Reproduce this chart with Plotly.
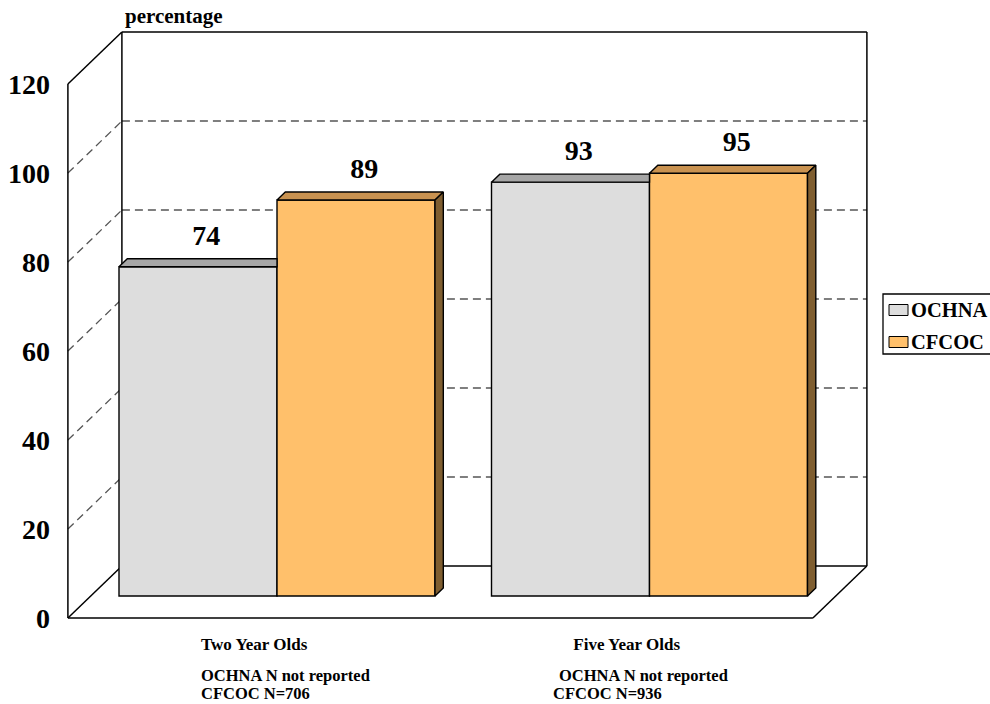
import plotly.graph_objects as go

# ---------------- data ----------------
CATEGORIES = ["Two Year Olds", "Five Year Olds"]
SERIES = ["OCHNA", "CFCOC"]
OCHNA = [74, 93]
CFCOC = [89, 95]
Y_TICKS = [0, 20, 40, 60, 80, 100, 120]
NOTES_OCHNA = ["OCHNA N not reported", "OCHNA N not reported"]
NOTES_CFCOC = ["CFCOC N=706", "CFCOC N=936"]
Y_LABEL = "percentage"

# ---------------- style / geometry ----------------
W_FIG, H_FIG = 990, 704
FONT = "Liberation Serif"
FRONT_COLORS = ["#DDDDDD", "#FFC06B"]
TOP_COLORS = ["#A6A6A6", "#C99250"]
SIDE_COLORS = ["#7A7A7A", "#7F5E30"]
EDGE = "#000000"
GRID = "#555555"

PX_X = 372.5          # pixels per category unit
PX_Y = 4.45           # pixels per percentage point
X0_PX = 277           # pixel of category 0 (bar plane)
Y0_PX = 596           # pixel of value 0 (bar plane)
XRANGE = [-X0_PX / PX_X, (W_FIG - X0_PX) / PX_X]
YRANGE = [-(H_FIG - Y0_PX) / PX_Y, Y0_PX / PX_Y]
BAR_W = 158 / PX_X
CAT_LO, CAT_HI = -0.5, len(CATEGORIES) - 0.5
Y_MAX = Y_TICKS[-1]

DEPTH_DX, DEPTH_DY = 54, 52        # pixel shift from front wall to back wall
D_FRONT = -22 / 52
D_BACK = 30 / 52
D_BAR = 8 / 52


def P(x, v, d):
    """project a point on the bar plane to depth d (relative to bar plane)"""
    return x + d * DEPTH_DX / PX_X, v + d * DEPTH_DY / PX_Y


shapes = []


def seg(p, q, dash=None, color=EDGE, width=1.5):
    ln = dict(color=color, width=width)
    if dash:
        ln["dash"] = dash
    shapes.append(dict(type="line", xref="x", yref="y", x0=p[0], y0=p[1],
                       x1=q[0], y1=q[1], line=ln, layer="below"))


# back wall gridlines + left wall gridlines (dashed)
for v in Y_TICKS[1:-1]:
    seg(P(CAT_LO, v, D_BACK), P(CAT_HI, v, D_BACK), dash="8px,5px", color=GRID, width=1.3)
    seg(P(CAT_LO, v, D_FRONT), P(CAT_LO, v, D_BACK), dash="8px,5px", color=GRID, width=1.3)

# back wall outline
seg(P(CAT_LO, 0, D_BACK), P(CAT_LO, Y_MAX, D_BACK))
seg(P(CAT_LO, Y_MAX, D_BACK), P(CAT_HI, Y_MAX, D_BACK))
seg(P(CAT_HI, Y_MAX, D_BACK), P(CAT_HI, 0, D_BACK))
seg(P(CAT_LO, 0, D_BACK), P(CAT_HI, 0, D_BACK))
# left wall
seg(P(CAT_LO, 0, D_FRONT), P(CAT_LO, Y_MAX, D_FRONT))
seg(P(CAT_LO, Y_MAX, D_FRONT), P(CAT_LO, Y_MAX, D_BACK))
seg(P(CAT_LO, 0, D_FRONT), P(CAT_LO, 0, D_BACK))
# floor
seg(P(CAT_LO, 0, D_FRONT), P(CAT_HI, 0, D_FRONT))
seg(P(CAT_HI, 0, D_FRONT), P(CAT_HI, 0, D_BACK))

fig = go.Figure()

values = [OCHNA, CFCOC]
xs = list(range(len(CATEGORIES)))

# front faces as bars
for j, (name, vals) in enumerate(zip(SERIES, values)):
    fig.add_trace(go.Bar(
        x=xs, y=vals, name=name, width=BAR_W, offset=(j - 1) * BAR_W,
        marker=dict(color=FRONT_COLORS[j], line=dict(color=EDGE, width=1.4)),
        showlegend=False, hoverinfo="skip"))

dyb = D_BAR * DEPTH_DY / PX_Y
# top and side faces
for i in xs:
    for j, vals in enumerate(values):
        v = vals[i]
        x0 = i + (j - 1) * BAR_W
        x1 = x0 + BAR_W
        a, b = (x0, v), (x1, v)
        c, d = P(x1, v, D_BAR), P(x0, v, D_BAR)
        if j + 1 < len(values) and values[j + 1][i] >= v + dyb:
            c = (x1, v + dyb)
        px = [a[0], b[0], c[0], d[0], a[0]]
        py = [a[1], b[1], c[1], d[1], a[1]]
        fig.add_trace(go.Scatter(x=px, y=py, mode="lines", fill="toself",
                                 fillcolor=TOP_COLORS[j],
                                 line=dict(color=EDGE, width=1.4),
                                 showlegend=False, hoverinfo="skip"))
        if j == len(values) - 1:
            s0, s1 = P(x1, v, D_BAR), P(x1, 0, D_BAR)
            fig.add_trace(go.Scatter(x=[x1, x1, s0[0], s1[0], x1],
                                     y=[0, v, s0[1], s1[1], 0],
                                     mode="lines", fill="toself",
                                     fillcolor=SIDE_COLORS[j],
                                     line=dict(color=EDGE, width=1.4),
                                     showlegend=False, hoverinfo="skip"))

# value labels
for j, vals in enumerate(values):
    tx, ty = [], []
    for i in xs:
        cx, cy = P(i + (j - 0.5) * BAR_W, vals[i], D_BAR)
        tx.append(cx)
        ty.append(cy + 21 / PX_Y)
    fig.add_trace(go.Scatter(x=tx, y=ty, mode="text", text=[str(v) for v in vals],
                             textposition="middle center",
                             textfont=dict(family=FONT, size=28, color="black", weight="bold"),
                             showlegend=False, hoverinfo="skip"))

# dummy trace for the front-plane axes
fig.add_trace(go.Scatter(x=[None], y=[None], xaxis="x2", yaxis="y2",
                         showlegend=False, hoverinfo="skip"))

front_dx = D_FRONT * DEPTH_DX / PX_X
front_dy = D_FRONT * DEPTH_DY / PX_Y
front_left_px = X0_PX + (CAT_LO + front_dx) * PX_X
front_floor_px = Y0_PX - front_dy * PX_Y

annotations = [
    dict(text=Y_LABEL, xref="paper", yref="paper", x=123 / W_FIG, y=1 - 16 / H_FIG,
         xanchor="left", yanchor="middle", showarrow=False,
         font=dict(family=FONT, size=21, color="black", weight="bold")),
]
NOTE_SHIFTS = [(-55, -55), (-70, -76)]
for i in xs:
    for k, (txt, ypx) in enumerate([(NOTES_OCHNA[i], 675), (NOTES_CFCOC[i], 693)]):
        annotations.append(dict(text=txt, xref="x2", yref="paper", x=i, y=1 - ypx / H_FIG,
                                xanchor="left", yanchor="middle", showarrow=False,
                                xshift=NOTE_SHIFTS[i][k],
                                font=dict(family=FONT, size=16.5, color="black", weight="bold")))

# custom legend
LEG_Y = [310, 342]
shapes.append(dict(type="rect", xref="paper", yref="paper", x0=883 / W_FIG, x1=1.05,
                   y0=1 - 354 / H_FIG, y1=1 - 294 / H_FIG,
                   line=dict(color="black", width=1.3), fillcolor="white", layer="above"))
for j, name in enumerate(SERIES):
    yc = LEG_Y[j]
    shapes.append(dict(type="rect", xref="paper", yref="paper", x0=889 / W_FIG, x1=908 / W_FIG,
                       y0=1 - (yc + 5.5) / H_FIG, y1=1 - (yc - 5.5) / H_FIG,
                       line=dict(color="black", width=1), fillcolor=FRONT_COLORS[j], layer="above"))
    annotations.append(dict(text=name, xref="paper", yref="paper", x=909 / W_FIG,
                            y=1 - yc / H_FIG, xanchor="left", yanchor="middle", showarrow=False,
                            font=dict(family=FONT, size=20.5, color="black", weight="bold")))

fig.update_layout(
    width=W_FIG, height=H_FIG, autosize=False,
    margin=dict(l=0, r=0, t=0, b=0),
    paper_bgcolor="white", plot_bgcolor="rgba(0,0,0,0)",
    barmode="overlay", showlegend=False,
    xaxis=dict(range=XRANGE, visible=False, fixedrange=True),
    yaxis=dict(range=YRANGE, visible=False, fixedrange=True),
    xaxis2=dict(range=[r - front_dx for r in XRANGE], overlaying="x", anchor="free",
                position=1 - front_floor_px / H_FIG, side="bottom",
                tickvals=xs, ticktext=CATEGORIES, ticks="", showline=False,
                showgrid=False, zeroline=False, ticklabelstandoff=14,
                tickfont=dict(family=FONT, size=17, color="black", weight="bold"),
                automargin=False, fixedrange=True),
    yaxis2=dict(range=[r - front_dy for r in YRANGE], overlaying="y", anchor="free",
                position=front_left_px / W_FIG, side="left",
                tickvals=Y_TICKS, ticks="", showline=False, showgrid=False, zeroline=False,
                ticklabelstandoff=18,
                tickfont=dict(family=FONT, size=28, color="black", weight="bold"),
                automargin=False, fixedrange=True),
    shapes=shapes, annotations=annotations,
)

fig.write_html("out.html")
